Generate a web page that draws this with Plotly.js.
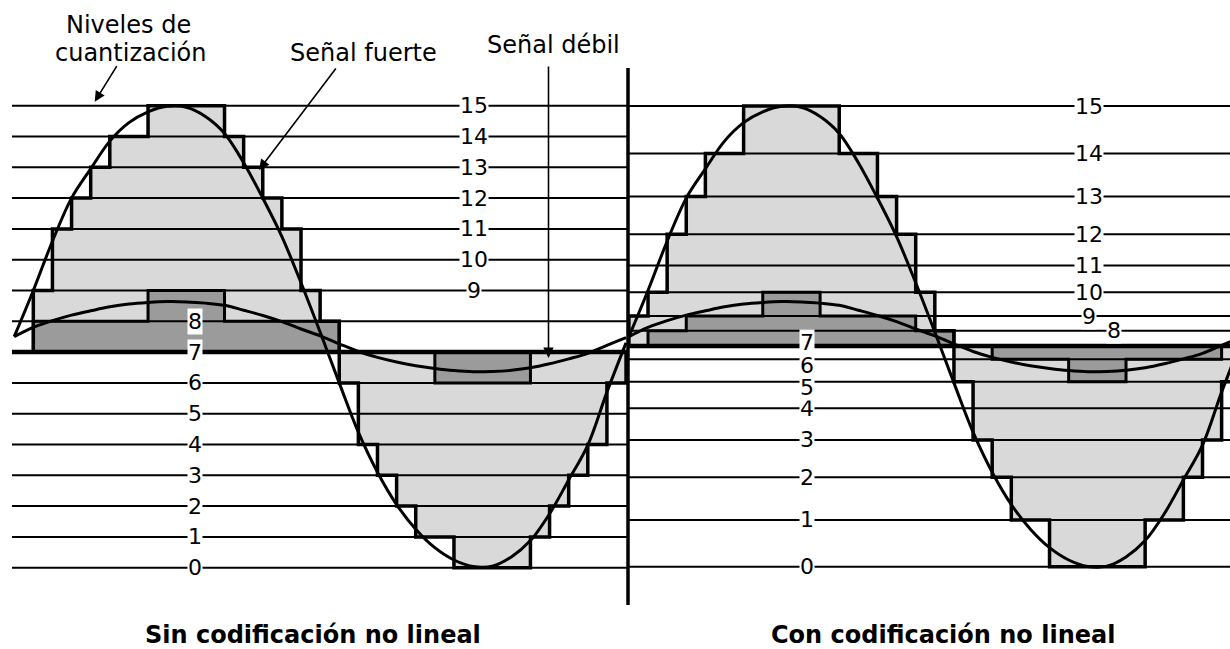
<!DOCTYPE html>
<html><head><meta charset="utf-8">
<script src="https://cdn.plot.ly/plotly-3.0.1.min.js"></script>
<style>html,body{margin:0;padding:0;background:#fff;}#chart{width:1230px;height:649px;}</style>
</head><body><div id="chart"></div>
<script>
// ---------- DATA ----------
// quantization level numbers
const levelLabels = ['0','1','2','3','4','5','6','7','8','9','10','11','12','13','14','15'];
// amplitude position of each level, uniform (left) and compressed/non-linear (right)
const levelsUniform = [0,1,2,3,4,5,6,7,8,9,10,11,12,13,14,15];
const levelsNonLinear = [0.03,1.55,2.94,4.15,5.18,6.04,6.77,7.20,7.69,8.17,8.94,9.81,10.83,12.05,13.45,14.99];
// vertical position of the level labels in the right panel
const labelPosNonLinear = [0.03,1.55,2.94,4.15,5.16,5.86,6.55,7.30,7.69,8.17,8.94,9.81,10.83,12.05,13.45,14.99];
// sample instants over one period, and the analog signals at those instants
const sampleTimes = [0,1,2,3,4,5,6,7,8,9,10,11,12,13,14,15,16,17,18,19,20,21,22,23,24,25,26,27,28,29,30,31,32];
const strongSignal = [7.5,9.0,10.6,12.0,12.95,13.85,14.45,14.8,14.98,14.95,14.65,14.1,13.15,12.0,10.75,9.25,7.65,6.0,4.4,3.1,2.05,1.25,0.65,0.25,0.04,0.05,0.35,0.88,1.75,2.85,3.98,5.7,7.3];
const weakSignal = [7.5,7.8,8.02,8.2,8.34,8.47,8.56,8.61,8.64,8.63,8.59,8.52,8.36,8.19,7.99,7.75,7.53,7.27,7.02,6.83,6.68,6.56,6.47,6.4,6.36,6.37,6.41,6.49,6.62,6.78,6.96,7.22,7.47];
// quantized level held during each of the 32 sample intervals
const leftStrongSteps  = [7,9,11,12,13,14,14,15,15,15,15,14,13,12,11,9,8,6,4,3,2,1,1,0,0,0,0,1,2,3,4,6];
const leftWeakSteps    = [7,8,8,8,8,8,8,9,9,9,9,8,8,8,8,8,8,7,7,7,7,7,6,6,6,6,6,7,7,7,7,7];
const rightStrongSteps = [9,10,12,13,14,14,15,15,15,15,15,14,14,13,12,10,8,5,3,2,1,1,0,0,0,0,0,1,1,2,3,5];
const rightWeakSteps   = [7,8,8,9,9,9,9,10,10,10,9,9,9,9,9,8,8,7,7,6,6,6,6,5,5,5,6,6,6,6,6,7];
const baseLevel = 7;
const panelTitles = ['Sin codificación no lineal','Con codificación no lineal'];

// ---------- helpers ----------
function stepPath(steps, pos, base){
  const x=[], y=[];
  x.push(0); y.push(pos[base]);
  steps.forEach((lv,i)=>{ x.push(i,i+1); y.push(pos[lv],pos[lv]); });
  x.push(steps.length); y.push(pos[base]);
  return {x,y};
}
function levelLines(pos, x0, x1){
  const x=[], y=[];
  pos.forEach(p=>{ x.push(x0,x1,null); y.push(p,p,null); });
  return {x,y};
}
const FONT = 'DejaVu Sans, Verdana, sans-serif';
const LIGHT = '#d9d9d9', DARK = '#9b9b9b';
const traces = [];
function fillTrace(p, ax, color){
  return {x:p.x.concat([p.x[0]]), y:p.y.concat([p.y[0]]), xaxis:ax, yaxis:'y', mode:'lines', fill:'toself',
    fillcolor:color, line:{width:0,color:'rgba(0,0,0,0)'}, hoverinfo:'skip', showlegend:false};
}
function lineTrace(p, ax, w, shape){
  return {x:p.x, y:p.y, xaxis:ax, yaxis:'y', mode:'lines', line:{color:'#000',width:w,shape:shape||'linear'},
    connectgaps:false, hoverinfo:'skip', showlegend:false};
}
const LS = stepPath(leftStrongSteps, levelsUniform, baseLevel);
const LW = stepPath(leftWeakSteps, levelsUniform, baseLevel);
const RS = stepPath(rightStrongSteps, levelsNonLinear, baseLevel);
const RW = stepPath(rightWeakSteps, levelsNonLinear, baseLevel);
traces.push(fillTrace(LS,'x',LIGHT), fillTrace(RS,'x2',LIGHT));
traces.push(fillTrace(LW,'x',DARK), fillTrace(RW,'x2',DARK));
traces.push(lineTrace(levelLines(levelsUniform,-0.115,32.1),'x',2));
traces.push(lineTrace(levelLines(levelsNonLinear,-0.05,32.5),'x2',2));
traces.push(lineTrace(LS,'x',3.5), lineTrace(RS,'x2',3.5), lineTrace(LW,'x',3), lineTrace(RW,'x2',3));
traces.push(lineTrace(levelLines([levelsUniform[baseLevel]],-0.115,32.1),'x',4.5));
traces.push(lineTrace(levelLines([levelsNonLinear[baseLevel]],-0.05,32.5),'x2',4.5));
traces.push(lineTrace({x:sampleTimes,y:strongSignal},'x',3,'spline'));
traces.push(lineTrace({x:sampleTimes,y:weakSignal},'x',3,'spline'));
traces.push(lineTrace({x:sampleTimes,y:strongSignal},'x2',3,'spline'));
traces.push(lineTrace({x:sampleTimes,y:weakSignal},'x2',3,'spline'));

// ---------- annotations ----------
const ann = [];
const C = {xanchor:'center', yanchor:'middle', showarrow:false};
levelLabels.forEach((t,i)=>{
  ann.push(Object.assign({xref:'x', yref:'y', x: i>=9 ? 24.07 : 9.48, y: levelsUniform[i], text:t,
    bgcolor:'#fff', borderpad:0, font:{family:FONT,size:22,color:'#000'}}, C));
});
levelLabels.forEach((t,i)=>{
  ann.push(Object.assign({xref:'x2', yref:'y', x: i>=9 ? 24.07 : (i===8 ? 25.37 : 9.31), y: labelPosNonLinear[i], text:t,
    bgcolor:'#fff', borderpad:0, font:{family:FONT,size:22,color:'#000'}}, C));
});
const W=1230, H=649;
function px(x){return x/W;} function py(y){return 1-y/H;}
function txt(x,y,t,bold){
  return Object.assign({xref:'paper',yref:'paper',x:px(x),y:py(y),text:bold?'<b>'+t+'</b>':t,font:{family:FONT,size:24,color:'#000'}}, C);
}
function arrow(x,y,ax,ay){
  return {xref:'paper',yref:'paper',x:px(x),y:py(y),ax:ax,ay:ay,text:'',showarrow:true,arrowhead:2,arrowsize:1.3,arrowwidth:1.6,arrowcolor:'#000'};
}
ann.push(txt(128.5,24.5,'Niveles de'));
ann.push(txt(130,53.5,'cuantización'));
ann.push(txt(363,53,'Señal fuerte'));
ann.push(txt(553.5,44.5,'Señal débil'));
ann.push(arrow(94.7,101.7,23,-37));
ann.push(arrow(259,170,78,-103));
ann.push(arrow(548.5,358,0,-293));
ann.push(txt(313,635,panelTitles[0],true));
ann.push(txt(943,635,panelTitles[1],true));

const layout = {
  width:W, height:H, margin:{l:0,r:0,t:0,b:0}, paper_bgcolor:'#fff', plot_bgcolor:'#fff', showlegend:false,
  xaxis:{range:[-14.2/19.12,(W-14.2)/19.12], visible:false, fixedrange:true},
  xaxis2:{range:[-628.9/19.12,(W-628.9)/19.12], visible:false, overlaying:'x', anchor:'y', fixedrange:true},
  yaxis:{range:[(567.7-H)/30.8, 567.7/30.8], visible:false, fixedrange:true},
  shapes:[{type:'line',xref:'paper',yref:'paper',x0:px(628),x1:px(628),y0:py(68),y1:py(605),line:{color:'#000',width:3.5}}],
  annotations:ann
};
Plotly.newPlot('chart', traces, layout, {displayModeBar:false, staticPlot:true});
</script></body></html>
